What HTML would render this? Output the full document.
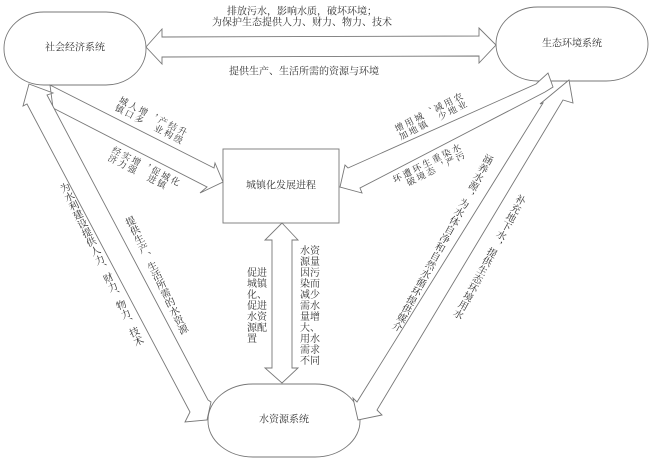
<!DOCTYPE html>
<html><head><meta charset="utf-8">
<style>
html,body{margin:0;padding:0;background:#fff;}
body{width:650px;height:462px;position:relative;overflow:hidden;font-family:"Liberation Serif","Noto Serif CJK SC","Noto Sans CJK SC",serif;color:#333;}
.t{position:absolute;font-size:10px;line-height:11px;white-space:nowrap;}
.c{transform:translate(-50%,-50%);}
.r{position:absolute;font-size:10px;line-height:11px;white-space:nowrap;}
.s{position:absolute;font-size:9px;line-height:11px;white-space:normal;word-break:break-all;height:19px;}
</style></head><body>
<svg width="650" height="462" style="position:absolute;left:0;top:0" fill="#fff" stroke="#777" stroke-width="0.9">
<rect x="4" y="12" width="142" height="73" rx="40" ry="36"/>
<rect x="496" y="7" width="152" height="74" rx="42" ry="37"/>
<rect x="223" y="149" width="116" height="74"/>
<rect x="208" y="384" width="152" height="73" rx="45" ry="36"/>
<polygon points="146,47 162,29 162,37 479,36 479,28 496,45 479,63 479,56 162,57 162,64"/>
<polygon points="282,223 298,240 292,240 292,368 298,368 282,383 265,368 272,368 272,240 265,240"/>
<polygon points="50,85 214,168 215,163 223,182 200,193 207,187 53,108"/>
<polygon points="548,73 553,87 545,92 360,188 362,193 340,187 345,165 348,168 536,84"/>
<polygon points="29,84 53,93 47,95 208,400 211,402 207,420 185,422 190,412 27,104 23,106"/>
<polygon points="569,80 573,103 563,100 377,410 382,415 358,420 353,398 357,402 543,103 540,104"/>
</svg>
<div class="t c" style="left:75px;top:48px">社会经济系统</div>
<div class="t c" style="left:572px;top:44px">生态环境系统</div>
<div class="t c" style="left:281px;top:186px">城镇化发展进程</div>
<div class="t c" style="left:284px;top:420px">水资源系统</div>
<div class="t c" style="left:302px;top:12px">排放污水，影响水质，破坏环境；</div>
<div class="t c" style="left:302px;top:23px">为保护生态提供人力、财力、物力、技术</div>
<div class="t c" style="left:304px;top:72px">提供生产、生活所需的资源与环境</div>
<div class="t" style="left:247px;top:268px;width:22px;white-space:normal;">促进<br>城镇<br>化、<br>促进<br>水资<br>源配<br>置</div>
<div class="t" style="left:300px;top:246px;width:22px;white-space:normal;">水资<br>源量<br>因污<br>染而<br>减少<br>需水<br>量增<br>大、<br>用水<br>需求<br>不同</div>
<div class="r" style="left:100px;top:265px;writing-mode:vertical-rl;transform:translate(-50%,-50%) rotate(-25.6deg);">为水利建设提供人力、财力、物力、技术</div>
<div class="r" style="left:155px;top:276px;writing-mode:vertical-rl;transform:translate(-50%,-50%) rotate(-26deg);">提供生产、生活所需的水资源</div>
<div class="r" style="left:441px;top:242px;writing-mode:vertical-rl;transform:translate(-50%,-50%) rotate(28.5deg);">涵养水源，为水体自净和自然水循环提供媒介</div>
<div class="r" style="left:488px;top:256px;writing-mode:vertical-rl;transform:translate(-50%,-50%) rotate(28.5deg);">补充地下水，提供生态环境用水</div>
<div class="s" style="left:150px;top:120px;writing-mode:vertical-lr;transform:translate(-50%,-50%) rotate(27deg);">城镇<br>人口<br>增多<br>，<br>产业<br>结构<br>升级</div>
<div class="s" style="left:143px;top:170px;writing-mode:vertical-lr;transform:translate(-50%,-50%) rotate(27deg);">经济<br>实力<br>增强<br>，<br>促进<br>城镇<br>化</div>
<div class="s" style="left:430px;top:117px;writing-mode:vertical-rl;transform:translate(-50%,-50%) rotate(-27deg);">农业<br>用地<br>减少<br>、<br>城镇<br>用地<br>增加</div>
<div class="s" style="left:428px;top:168px;writing-mode:vertical-rl;transform:translate(-50%,-50%) rotate(-27deg);">水污<br>染严<br>重，<br>生态<br>环境<br>遭破<br>坏</div>
</body></html>
